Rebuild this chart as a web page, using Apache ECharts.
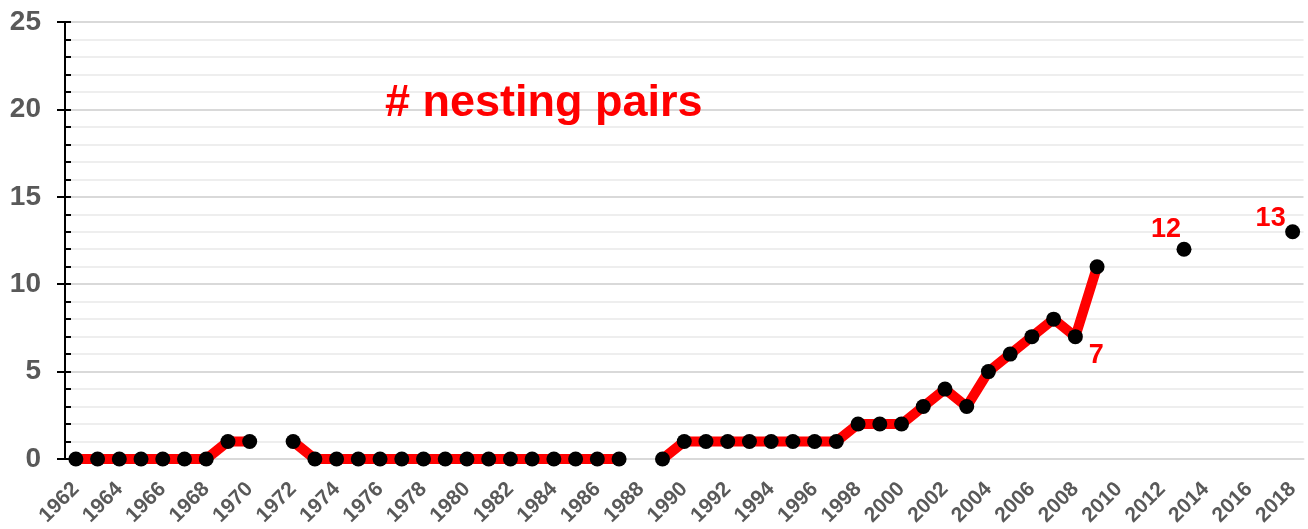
<!DOCTYPE html>
<html>
<head>
<meta charset="utf-8">
<script src="https://cdn.jsdelivr.net/npm/echarts@6/dist/echarts.min.js"></script>
<style>
  html, body { margin: 0; padding: 0; background: #fff; }
  #chartDiv { width: 1308px; height: 529px; }
</style>
</head>
<body>
<div id="chartDiv"></div>
<script>
// chart init
let myChart = echarts.init(document.getElementById('chartDiv'));
window.onresize = myChart.resize;

// data
let years = [
    '1962', '1963', '1964', '1965', '1966', '1967', '1968', '1969', '1970', '1971',
    '1972', '1973', '1974', '1975', '1976', '1977', '1978', '1979', '1980', '1981',
    '1982', '1983', '1984', '1985', '1986', '1987', '1988', '1989', '1990', '1991',
    '1992', '1993', '1994', '1995', '1996', '1997', '1998', '1999', '2000', '2001',
    '2002', '2003', '2004', '2005', '2006', '2007', '2008', '2009', '2010', '2011',
    '2012', '2013', '2014', '2015', '2016', '2017', '2018'
];
let pairs = [
    0, 0, 0, 0, 0, 0, 0, 1, 1, null,
    1, 0, 0, 0, 0, 0, 0, 0, 0, 0,
    0, 0, 0, 0, 0, 0, null, 0, 1, 1,
    1, 1, 1, 1, 1, 1, 2, 2, 2, 3,
    4, 3, 5, 6, 7, 8, 7, 11, null, null,
    null, 12, null, null, null, null, 13
];
let labelYears = ['2008', '2013', '2018'];
let yTicks = [0, 5, 10, 15, 20, 25];

// label placement (style only)
let labelOffsets = {
    '2008': [21, 19],
    '2013': [-18, -20],
    '2018': [-22, -13]
};

let seriesData = pairs.map(function (v, i) {
    let y = years[i];
    if (labelYears.indexOf(y) < 0 || v === null) return v;
    return {
        value: v,
        label: {
            show: true,
            position: 'inside',
            offset: labelOffsets[y],
            formatter: String(v),
            color: '#ff0000',
            fontSize: 27,
            fontWeight: 'bold',
            fontFamily: 'Liberation Sans, Arial, sans-serif'
        }
    };
});

let gray = '#595959';

let option = {
    backgroundColor: '#ffffff',
    animation: false,
    title: {
        text: '# nesting pairs',
        left: 380,
        top: 76,
        textStyle: {
            color: '#ff0000',
            fontSize: 45,
            fontWeight: 'bold',
            fontFamily: 'Liberation Sans, Arial, sans-serif'
        }
    },
    grid: {
        left: 65,
        right: 4.5,
        top: 22,
        bottom: 70,
        containLabel: false
    },
    xAxis: [
        {
            type: 'category',
            data: years,
            position: 'bottom',
            boundaryGap: true,
            axisLine: { lineStyle: { color: '#d9d9d9', width: 2 } },
            axisTick: { interval: 1, length: 8, lineStyle: { color: '#d9d9d9', width: 2 } },
            axisLabel: {
                interval: 1,
                rotate: 45,
                margin: 27,
                color: gray,
                fontSize: 21,
                fontWeight: 'bold',
                fontFamily: 'Liberation Sans, Arial, sans-serif'
            },
            splitLine: { show: false }
        },
        {
            type: 'category',
            data: years,
            position: 'bottom',
            offset: 0,
            boundaryGap: true,
            axisLine: { show: false },
            axisTick: { inside: true, interval: 0, length: 6, lineStyle: { color: '#d9d9d9', width: 2 } },
            axisLabel: { show: false },
            splitLine: { show: false }
        }
    ],
    yAxis: [
        {
            type: 'value',
            min: 0,
            max: 25,
            interval: 5,
            position: 'left',
            axisLine: { show: true, lineStyle: { color: '#000000', width: 2 } },
            axisTick: { show: true, length: 8, lineStyle: { color: '#000000', width: 2 } },
            axisLabel: {
                margin: 24,
                color: gray,
                fontSize: 28,
                fontWeight: 'bold',
                fontFamily: 'Liberation Sans, Arial, sans-serif',
                formatter: function (v) { return yTicks.indexOf(v) >= 0 ? String(v) : ''; }
            },
            splitLine: { show: false }
        },
        {
            type: 'value',
            min: 0,
            max: 25,
            interval: 1,
            position: 'left',
            offset: 0,
            axisLine: { show: false },
            axisTick: { show: true, inside: true, length: 6, lineStyle: { color: '#000000', width: 2 } },
            axisLabel: { show: false },
            splitLine: {
                show: true,
                lineStyle: {
                    color: ['#d9d9d9', '#eeeeee', '#eeeeee', '#eeeeee', '#eeeeee'],
                    width: 2
                }
            }
        }
    ],
    series: [
        {
            type: 'line',
            xAxisIndex: 0,
            yAxisIndex: 0,
            data: seriesData,
            connectNulls: false,
            showAllSymbol: true,
            symbol: 'circle',
            symbolSize: 15,
            itemStyle: { color: '#000000' },
            lineStyle: { color: '#ff0000', width: 10 },
            z: 5
        }
    ]
};
myChart.setOption(option);
</script>
</body>
</html>
